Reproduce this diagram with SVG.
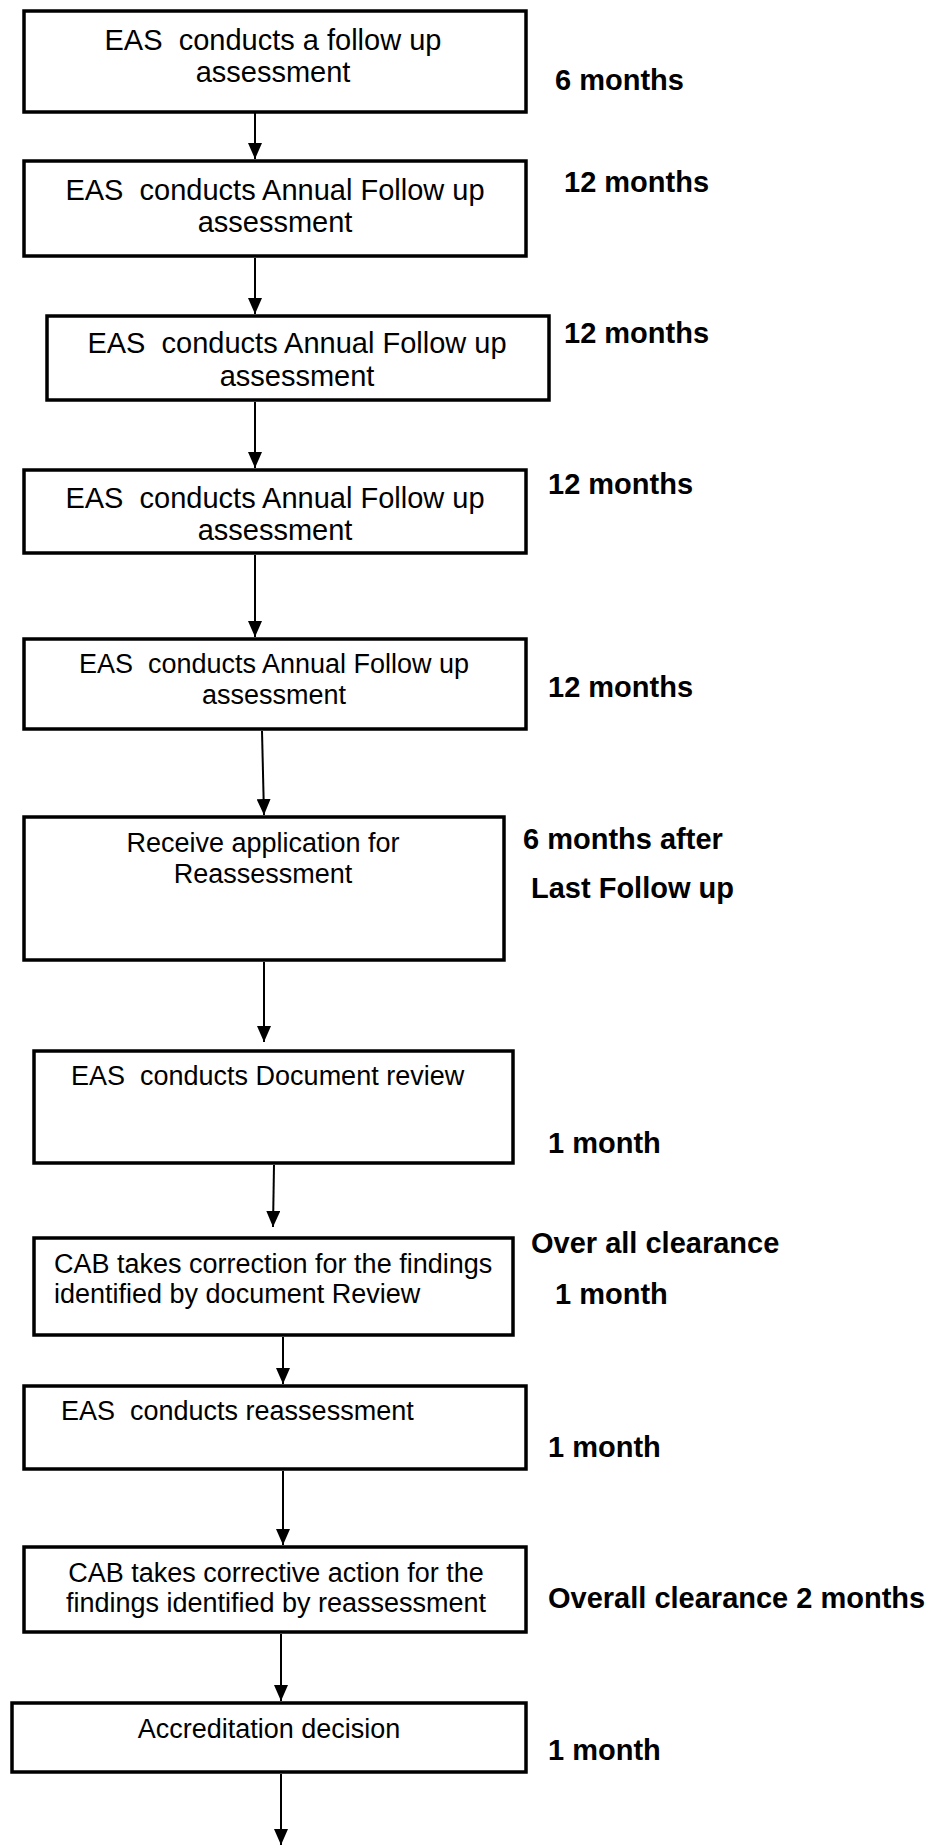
<svg xmlns="http://www.w3.org/2000/svg" width="929" height="1845" viewBox="0 0 929 1845">
<style>
  .box { fill: #ffffff; stroke: #000000; stroke-width: 3.5; }
  .t { font-family: "Liberation Sans", Arial, sans-serif; fill: #000000; white-space: pre; }
  .c { text-anchor: middle; }
  .f29 { font-size: 29px; }
  .f27 { font-size: 27px; }
  .lbl { font-family: "Liberation Sans", Arial, sans-serif; font-weight: bold; font-size: 29px; fill: #000000; }
  .conn { stroke: #000000; stroke-width: 2; fill: none; marker-end: url(#ah); }
</style>
<defs>
  <marker id="ah" markerUnits="userSpaceOnUse" markerWidth="16" markerHeight="14" viewBox="0 0 16 14" refX="16" refY="7" orient="auto">
    <path d="M0,0 L16,7 L0,14 Z" fill="#000000"/>
  </marker>
</defs>
<rect x="0" y="0" width="929" height="1845" fill="#ffffff"/>

<g id="connectors">
  <line class="conn" x1="255" y1="113" x2="255" y2="159"/>
  <line class="conn" x1="255" y1="258" x2="255" y2="314"/>
  <line class="conn" x1="255" y1="402" x2="255" y2="468"/>
  <line class="conn" x1="255" y1="555" x2="255" y2="637"/>
  <line class="conn" x1="262" y1="731" x2="264" y2="815"/>
  <line class="conn" x1="264" y1="962" x2="264" y2="1042"/>
  <line class="conn" x1="274" y1="1165" x2="273" y2="1227"/>
  <line class="conn" x1="283" y1="1337" x2="283" y2="1384"/>
  <line class="conn" x1="283" y1="1471" x2="283" y2="1545"/>
  <line class="conn" x1="281" y1="1634" x2="281" y2="1701"/>
  <line class="conn" x1="281" y1="1774" x2="281" y2="1845"/>
</g>

<g id="node1">
  <rect class="box" x="24" y="11" width="502" height="101"/>
  <text class="t c f29" x="273" y="50" xml:space="preserve">EAS  conducts a follow up</text>
  <text class="t c f29" x="273" y="82">assessment</text>
</g>
<g id="node2">
  <rect class="box" x="24" y="161" width="502" height="95"/>
  <text class="t c f29" x="275" y="200" xml:space="preserve">EAS  conducts Annual Follow up</text>
  <text class="t c f29" x="275" y="232">assessment</text>
</g>
<g id="node3">
  <rect class="box" x="47" y="316" width="502" height="84"/>
  <text class="t c f29" x="297" y="353" xml:space="preserve">EAS  conducts Annual Follow up</text>
  <text class="t c f29" x="297" y="386">assessment</text>
</g>
<g id="node4">
  <rect class="box" x="24" y="470" width="502" height="83"/>
  <text class="t c f29" x="275" y="508" xml:space="preserve">EAS  conducts Annual Follow up</text>
  <text class="t c f29" x="275" y="540">assessment</text>
</g>
<g id="node5">
  <rect class="box" x="24" y="639" width="502" height="90"/>
  <text class="t c f27" x="274" y="673" xml:space="preserve">EAS  conducts Annual Follow up</text>
  <text class="t c f27" x="274" y="704">assessment</text>
</g>
<g id="node6">
  <rect class="box" x="24" y="817" width="480" height="143"/>
  <text class="t c f27" x="263" y="852">Receive application for</text>
  <text class="t c f27" x="263" y="883">Reassessment</text>
</g>
<g id="node7">
  <rect class="box" x="34" y="1051" width="479" height="112"/>
  <text class="t f27" x="71" y="1085" xml:space="preserve">EAS  conducts Document review</text>
</g>
<g id="node8">
  <rect class="box" x="34" y="1238" width="479" height="97"/>
  <text class="t f27" x="54" y="1273">CAB takes correction for the findings</text>
  <text class="t f27" x="54" y="1303">identified by document Review</text>
</g>
<g id="node9">
  <rect class="box" x="24" y="1386" width="502" height="83"/>
  <text class="t f27" x="61" y="1420" xml:space="preserve">EAS  conducts reassessment</text>
</g>
<g id="node10">
  <rect class="box" x="24" y="1547" width="502" height="85"/>
  <text class="t c f27" x="276" y="1582">CAB takes corrective action for the</text>
  <text class="t c f27" x="276" y="1612">findings identified by reassessment</text>
</g>
<g id="node11">
  <rect class="box" x="12" y="1703" width="514" height="69"/>
  <text class="t c f27" x="269" y="1738">Accreditation decision</text>
</g>

<g id="labels">
  <text class="lbl" x="555" y="90">6 months</text>
  <text class="lbl" x="564" y="192">12 months</text>
  <text class="lbl" x="564" y="343">12 months</text>
  <text class="lbl" x="548" y="494">12 months</text>
  <text class="lbl" x="548" y="697">12 months</text>
  <text class="lbl" x="523" y="849">6 months after</text>
  <text class="lbl" x="531" y="898">Last Follow up</text>
  <text class="lbl" x="548" y="1153">1 month</text>
  <text class="lbl" x="531" y="1253">Over all clearance</text>
  <text class="lbl" x="555" y="1304">1 month</text>
  <text class="lbl" x="548" y="1457">1 month</text>
  <text class="lbl" x="548" y="1608">Overall clearance 2 months</text>
  <text class="lbl" x="548" y="1760">1 month</text>
</g>
</svg>
